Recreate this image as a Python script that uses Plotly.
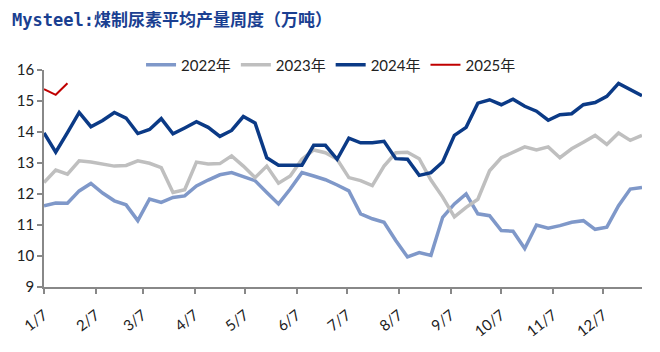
import pandas as pd
import plotly.graph_objects as go

# Weekly dates (dummy non-leap year, first week Jan 7)
weeks = pd.date_range("2023-01-07", periods=52, freq="7D")

tick_dates = [f"2023-{m:02d}-07" for m in range(1, 13)]
tick_labels = [f"{m}/7" for m in range(1, 13)]

y2022 = [11.62, 11.71, 11.70, 12.10, 12.34, 12.03, 11.78, 11.65, 11.14, 11.84,
         11.73, 11.89, 11.94, 12.26, 12.45, 12.62, 12.69, 12.56, 12.43, 12.05,
         11.68, 12.16, 12.69, 12.58, 12.46, 12.29, 12.10, 11.36, 11.20, 11.09,
         10.50, 9.97, 10.11, 10.02, 11.25, 11.68, 12.00, 11.36, 11.30, 10.82,
         10.80, 10.24, 11.00, 10.90, 10.98, 11.09, 11.14, 10.86, 10.93, 11.62,
         12.16, 12.21]

y2023 = [12.37, 12.77, 12.64, 13.07, 13.03, 12.96, 12.90, 12.92, 13.07, 12.99,
         12.85, 12.05, 12.14, 13.03, 12.97, 12.98, 13.23, 12.90, 12.53, 12.90,
         12.35, 12.58, 13.12, 13.42, 13.33, 13.12, 12.53, 12.43, 12.27, 12.90,
         13.33, 13.35, 13.14, 12.45, 11.90, 11.26, 11.57, 11.83, 12.75, 13.17,
         13.33, 13.52, 13.42, 13.52, 13.17, 13.46, 13.67, 13.89, 13.60, 13.97,
         13.73, 13.89]

y2024 = [13.97, 13.35, 13.98, 14.63, 14.17, 14.37, 14.63, 14.45, 13.95, 14.08,
         14.43, 13.94, 14.13, 14.33, 14.15, 13.86, 14.05, 14.50, 14.29, 13.17,
         12.93, 12.93, 12.93, 13.57, 13.57, 13.12, 13.80, 13.65, 13.65, 13.70,
         13.14, 13.12, 12.60, 12.69, 13.03, 13.89, 14.15, 14.93, 15.04, 14.88,
         15.06, 14.83, 14.67, 14.38, 14.56, 14.59, 14.88, 14.95, 15.15, 15.57,
         15.38, 15.17]

y2025 = [15.38, 15.20, 15.57]

series = [
    ("2022年", y2022, "#7F98C9", 3.5),
    ("2023年", y2023, "#BFBFBF", 3.5),
    ("2024年", y2024, "#0B3A86", 3.5),
    ("2025年", y2025, "#C00000", 2),
]

fig = go.Figure()
for name, vals, color, w in series:
    fig.add_trace(go.Scatter(
        x=weeks[:len(vals)], y=vals, name=name, mode="lines",
        line=dict(color=color, width=w),
    ))

font_main = "Lato, 'Noto Sans CJK SC', sans-serif"

fig.update_layout(
    width=660, height=352,
    margin=dict(l=44, r=18, t=70, b=63),
    paper_bgcolor="white", plot_bgcolor="white",
    font=dict(family=font_main, size=15, color="#222222"),
    title=dict(
        text="<b><span style=\"font-family:'DejaVu Sans Mono'\">Mysteel:</span>煤制尿素平均产量周度（万吨）</b>",
        x=12 / 660, xanchor="left", y=1 - 20 / 352, yanchor="middle",
        font=dict(family="'Noto Sans CJK SC', sans-serif", size=17, color="#1A3F91"),
    ),
    legend=dict(
        orientation="h", x=0.48, xanchor="center", y=1.023, yanchor="middle",
        font=dict(size=15, color="#222222"), bgcolor="rgba(0,0,0,0)",
        itemwidth=30, traceorder="normal",
    ),
    showlegend=True,
)

fig.update_xaxes(
    type="date",
    range=[weeks[0], weeks[-1]],
    tickvals=tick_dates, ticktext=tick_labels,
    tickangle=-38,
    ticklabelstandoff=7,
    showgrid=False, zeroline=False,
    showline=True, linecolor="#888888", linewidth=1.5,
    ticks="outside", ticklen=5, tickcolor="#888888", tickwidth=1.5,
    tickfont=dict(size=15, color="#222222"),
)
fig.update_yaxes(
    range=[9, 16], dtick=1,
    showgrid=False, zeroline=False,
    showline=True, linecolor="#888888", linewidth=1.5,
    ticks="outside", ticklen=5, tickcolor="#888888", tickwidth=1.5,
    tickfont=dict(size=15, color="#222222"),
)

fig.write_html("out.html")
